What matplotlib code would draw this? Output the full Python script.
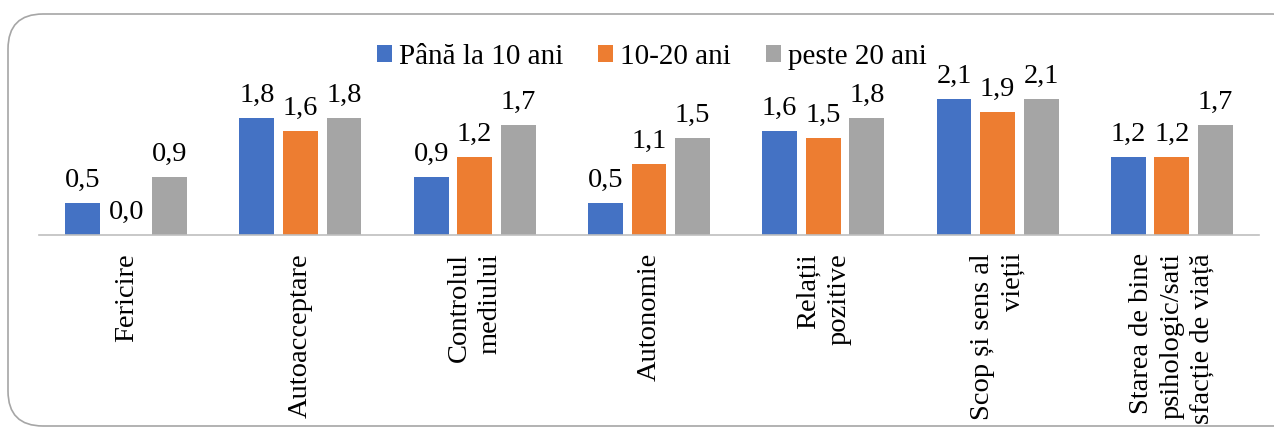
import matplotlib.pyplot as plt
from matplotlib.patches import FancyBboxPatch
import numpy as np

plt.rcParams['font.family'] = ['Liberation Serif', 'DejaVu Serif']

categories = ['Fericire', 'Autoacceptare', 'Controlul\nmediului', 'Autonomie',
              'Relații\npozitive', 'Scop și sens al\nvieții',
              'Starea de bine\npsihologic/sati\nsfacție de viață']
series_names = ['Până la 10 ani', '10-20 ani', 'peste 20 ani']
under_10 = [0.5, 1.8, 0.9, 0.5, 1.6, 2.1, 1.2]
from_10_20 = [0.0, 1.6, 1.2, 1.1, 1.5, 1.9, 1.2]
over_20 = [0.9, 1.8, 1.7, 1.5, 1.8, 2.1, 1.7]
colors = ['#4472C4', '#ED7D31', '#A5A5A5']

fig = plt.figure(figsize=(12.74, 4.29), dpi=100)

# rounded frame around the chart (inches)
frame = FancyBboxPatch((0.08, 0.03), 13.0, 4.12,
                       boxstyle='round,pad=0,rounding_size=0.35',
                       transform=fig.dpi_scale_trans, facecolor='none',
                       edgecolor='#a6a6a6', linewidth=1.2)
fig.patches.append(frame)

ax = fig.add_axes([39 / 1274, (429 - 235) / 429, 1220 / 1274, 162 / 429])
ax.set_facecolor('none')

x = np.arange(len(categories))
width = 0.2
offsets = [-0.25, 0, 0.25]
for vals, name, col, off in zip([under_10, from_10_20, over_20], series_names, colors, offsets):
    bars = ax.bar(x + off, vals, width, color=col, label=name)
    for b, v in zip(bars, vals):
        ax.annotate(f'{v:.1f}'.replace('.', ','), (b.get_x() + b.get_width() / 2, v),
                    xytext=(0, 11.5), textcoords='offset points',
                    ha='center', va='baseline', fontsize=20.5, clip_on=False)

ax.set_xlim(-0.5, len(categories) - 0.5)
ax.set_ylim(0, 2.5)
ax.set_yticks([])
ax.set_xticks(x)
ax.set_xticklabels(categories, rotation=90, fontsize=20.5, va='top', ha='center',
                   multialignment='right', linespacing=1.3)
ax.tick_params(axis='x', length=0, pad=13)
for s in ['top', 'right', 'left']:
    ax.spines[s].set_visible(False)
ax.spines['bottom'].set_color('#bfbfbf')
ax.spines['bottom'].set_linewidth(1.2)

fig.legend(loc='center', bbox_to_anchor=(652 / 1274, (429 - 57) / 429), ncol=3,
           frameon=False, fontsize=21, handlelength=0.5, handleheight=0.5,
           handletextpad=0.25, columnspacing=1.2, borderpad=0)

fig.savefig('out.png', dpi=100)
